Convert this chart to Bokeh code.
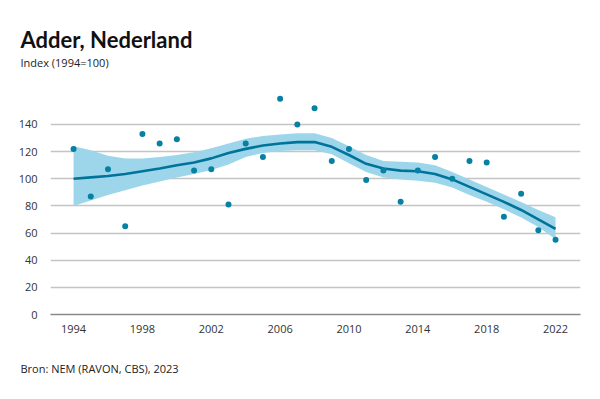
from bokeh.plotting import figure
from bokeh.models import Title, FixedTicker, Range1d
from bokeh.embed import file_html
from bokeh.resources import INLINE

years = list(range(1994, 2023))
index_values = [122, 87, 107, 65, 133, 126, 129, 106, 107, 81, 126, 116, 159, 140, 152, 113,
                122, 99, 106, 83, 106, 116, 100, 113, 112, 72, 89, 62, 55]
trend = [100, 101, 102, 103.5, 105.5, 107.5, 110, 112, 115, 119, 122, 124.5, 126, 127, 127, 123.5,
         117.5, 111, 107.5, 106, 105.5, 103.5, 99.5, 94, 88.5, 83, 77, 70, 63]
upper = [124, 121, 117, 115, 115, 116, 117.5, 119.5, 122.5, 126, 129.5, 131.5, 132.5, 133.5, 133.5, 130,
         124, 117.5, 113, 112.5, 112, 110, 105, 99.5, 94, 88.4, 82.8, 77, 71.6]
lower = [80, 84, 88, 91.5, 95, 98, 101, 103.5, 106.5, 110.5, 116, 119, 120.5, 121, 121, 118,
         111.5, 105, 101, 99.5, 98.5, 97, 93.5, 88, 83, 77.5, 71.5, 64.5, 55.5]
x_ticks = [1994, 1998, 2002, 2006, 2010, 2014, 2018, 2022]
y_ticks = [0, 20, 40, 60, 80, 100, 120, 140]

title_text = "Adder, Nederland"
subtitle_text = "Index (1994=100)"
source_text = "Bron: NEM (RAVON, CBS), 2023"

W, H = 600, 399
p = figure(width=W, height=H, output_backend="svg", toolbar_location=None,
           x_range=Range1d(1992.66, 2023.45), y_range=Range1d(0, 165),
           min_border_left=50, min_border_right=20, min_border_top=90, min_border_bottom=84)
p.outline_line_color = None
p.background_fill_color = "white"
p.border_fill_color = "white"

p.varea(x=years, y1=lower, y2=upper, fill_color="#9dd6ea", fill_alpha=1.0)
p.line(x=years, y=trend, line_color="#00739a", line_width=2.6)
p.scatter(x=years, y=index_values, size=6, fill_color="#0680a3", line_color=None)

p.xgrid.grid_line_color = None
p.ygrid.ticker = FixedTicker(ticks=y_ticks)
p.ygrid.grid_line_color = "#c4c4c4"
p.ygrid.grid_line_width = 1.5

p.yaxis.ticker = FixedTicker(ticks=y_ticks)
p.yaxis.axis_line_color = None
p.yaxis.major_tick_line_color = None
p.yaxis.minor_tick_line_color = None
p.yaxis.major_label_standoff = 7

p.xaxis.ticker = FixedTicker(ticks=x_ticks)
p.xaxis.axis_line_color = "#8a8a8a"
p.xaxis.axis_line_width = 1.5
p.xaxis.major_tick_line_color = None
p.xaxis.minor_tick_line_color = None
p.xaxis.major_label_standoff = 4

for ax in (p.xaxis[0], p.yaxis[0]):
    ax.major_label_text_font = "Open Sans"
    ax.major_label_text_font_size = "11px"
    ax.major_label_text_color = "#333333"

p.add_layout(Title(text=subtitle_text, align="left", offset=-30, standoff=42,
                   text_font="Open Sans", text_font_size="11px", text_font_style="normal",
                   text_color="#222222"), "above")
p.add_layout(Title(text=title_text, align="left", offset=-30, standoff=-42,
                   text_font="Lato", text_font_size="22px", text_font_style="bold",
                   text_color="#111111"), "above")
p.add_layout(Title(text=source_text, align="left", offset=-30, standoff=47,
                   text_font="Open Sans", text_font_size="11px", text_font_style="normal",
                   text_color="#222222"), "below")

open("out.html", "w").write(file_html(p, INLINE))
